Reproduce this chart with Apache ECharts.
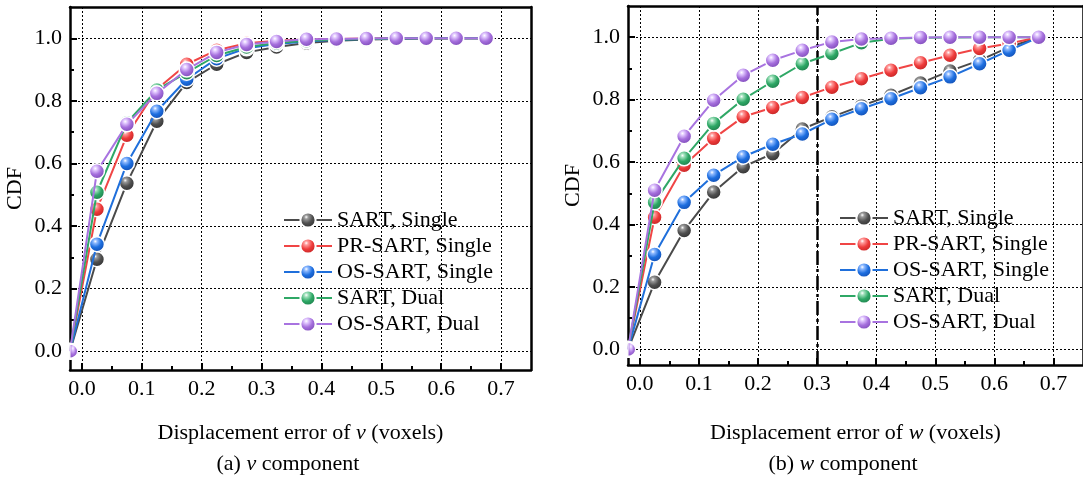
<!DOCTYPE html>
<html>
<head>
<meta charset="utf-8">
<script src="https://cdn.jsdelivr.net/npm/echarts@6/dist/echarts.min.js"></script>
<style>
  html, body { margin: 0; padding: 0; background: #fff; }
  #main { width: 1083px; height: 484px; }
</style>
</head>
<body>
<div id="main"></div>
<script>
// x positions of the points (first point sits on the left frame)
var xPos = [-0.02, 0.025, 0.075, 0.125, 0.175, 0.225, 0.275, 0.325, 0.375, 0.425, 0.475, 0.525, 0.575, 0.625, 0.675];

var seriesNames = ['SART, Single', 'PR-SART, Single', 'OS-SART, Single', 'SART, Dual', 'OS-SART, Dual'];

// (a) v component
var vSartSingle   = [0, 0.294, 0.537, 0.735, 0.859, 0.917, 0.955, 0.972, 0.985, 0.992, 0.996, 0.998, 0.999, 1.0, 1.0];
var vPrSartSingle = [0, 0.454, 0.690, 0.837, 0.917, 0.962, 0.984, 0.992, 0.996, 0.998, 0.999, 1.0, 1.0, 1.0, 1.0];
var vOsSartSingle = [0, 0.342, 0.600, 0.767, 0.869, 0.935, 0.968, 0.982, 0.990, 0.995, 0.998, 0.999, 1.0, 1.0, 1.0];
var vSartDual     = [0, 0.508, 0.730, 0.835, 0.890, 0.945, 0.972, 0.985, 0.992, 0.996, 0.998, 0.999, 1.0, 1.0, 1.0];
var vOsSartDual   = [0, 0.575, 0.725, 0.824, 0.900, 0.955, 0.980, 0.990, 0.997, 0.998, 0.999, 1.0, 1.0, 1.0, 1.0];

// (b) w component
var wSartSingle   = [0, 0.215, 0.381, 0.504, 0.585, 0.627, 0.706, 0.745, 0.780, 0.814, 0.853, 0.892, 0.926, 0.968, 1.0];
var wPrSartSingle = [0, 0.423, 0.590, 0.676, 0.745, 0.775, 0.807, 0.840, 0.867, 0.894, 0.918, 0.942, 0.964, 0.980, 1.0];
var wOsSartSingle = [0, 0.304, 0.471, 0.558, 0.617, 0.657, 0.690, 0.737, 0.771, 0.803, 0.838, 0.873, 0.915, 0.958, 1.0];
var wSartDual     = [0, 0.471, 0.612, 0.724, 0.801, 0.859, 0.915, 0.948, 0.982, 0.995, 0.998, 0.999, 1.0, 1.0, 1.0];
var wOsSartDual   = [0, 0.510, 0.683, 0.798, 0.878, 0.926, 0.958, 0.985, 0.994, 0.997, 0.999, 1.0, 1.0, 1.0, 1.0];

var xMajor = [0, 0.1, 0.2, 0.3, 0.4, 0.5, 0.6, 0.7];
var xMinor = [0.05, 0.15, 0.25, 0.35, 0.45, 0.55, 0.65];
var yMajor = [0, 0.2, 0.4, 0.6, 0.8, 1.0];
var yMinor = [0.1, 0.3, 0.5, 0.7, 0.9];
var markX = 0.3;

var FONT = 'Liberation Serif';
var FS = 22;
var lineColors = ['#4a4a4a', '#f04545', '#1f6fdb', '#2fa866', '#a873e0'];
var ballColors = [
  ['#9a9a9a', '#505050', '#2a2a2a'],
  ['#ff9a9a', '#ee3b3b', '#b81e1e'],
  ['#8fbaff', '#1e6fe0', '#0f47a8'],
  ['#9fe0bb', '#2ea866', '#1b7545'],
  ['#e2c9ff', '#a670dd', '#7441b0']
];

function ball(c) {
  return {
    type: 'radial', x: 0.4, y: 0.33, r: 0.72,
    colorStops: [
      { offset: 0, color: '#ffffff' },
      { offset: 0.16, color: c[0] },
      { offset: 0.5, color: c[1] },
      { offset: 1, color: c[2] }
    ]
  };
}

function makeSeries(values, i, gi) {
  var data = xPos.map(function (x, k) {
    if (k === 0) {
      // half marker clipped by the frame
      return { value: [x, values[k]], symbol: 'path://M0 0A10 10 0 0 1 0 20Z', symbolSize: [7.5, 15], symbolOffset: [3.75, 0] };
    }
    return [x, values[k]];
  });
  return {
    name: seriesNames[i],
    type: 'line',
    xAxisIndex: gi * 3,
    yAxisIndex: gi * 3,
    data: data,
    symbol: 'circle',
    symbolSize: 15,
    showAllSymbol: true,
    lineStyle: { color: lineColors[i], width: 2 },
    itemStyle: { color: ball(ballColors[i]), borderColor: '#fff', borderWidth: 1.5 },
    emphasis: { disabled: true },
    z: 3 + i
  };
}

function xAxes(gi) {
  return [
    {
      gridIndex: gi, type: 'value', min: -0.02, max: 0.75, position: 'bottom',
      axisLine: { show: true, onZero: false, lineStyle: { color: '#000', width: 2.5 } },
      axisTick: { show: true, inside: true, length: 7, customValues: xMajor, lineStyle: { color: '#000', width: 2 } },
      axisLabel: { show: true, customValues: xMajor, margin: 8, color: '#000', fontSize: FS, fontFamily: FONT,
        formatter: function (v) { return v.toFixed(1); } },
      splitLine: { show: true, lineStyle: { color: '#000', width: 1, type: [2, 2] } },
      name: gi === 0 ? '{t|Displacement error of }{i|v}{t| (voxels)}' : '{t|Displacement error of }{i|w}{t| (voxels)}',
      nameLocation: 'middle', nameGap: gi === 0 ? 52 : 57,
      nameTextStyle: { rich: {
        t: { fontSize: FS, fontFamily: FONT, color: '#000' },
        i: { fontSize: FS, fontFamily: FONT, color: '#000', fontStyle: 'italic' }
      } }
    },
    {
      gridIndex: gi, type: 'value', min: -0.02, max: 0.75, position: 'bottom',
      axisLine: { show: false, onZero: false },
      axisTick: { show: true, inside: true, length: 4, customValues: xMinor, lineStyle: { color: '#000', width: 2 } },
      axisLabel: { show: false },
      splitLine: { show: false }
    },
    {
      gridIndex: gi, type: 'value', min: -0.02, max: 0.75, position: 'top',
      axisLine: { show: true, onZero: false, lineStyle: { color: '#000', width: 2.5 } },
      axisTick: { show: false }, axisLabel: { show: false }, splitLine: { show: false }
    }
  ];
}

function yAxes(gi, ymin) {
  return [
    {
      gridIndex: gi, type: 'value', min: ymin, max: 1.1, position: 'left',
      axisLine: { show: true, onZero: false, lineStyle: { color: '#000', width: 2.5 } },
      axisTick: { show: true, inside: true, length: 7, customValues: yMajor, lineStyle: { color: '#000', width: 2 } },
      axisLabel: { show: true, customValues: yMajor, margin: 8, color: '#000', fontSize: FS, fontFamily: FONT,
        formatter: function (v) { return v.toFixed(1); } },
      splitLine: { show: true, lineStyle: { color: '#000', width: 1, type: [2, 2] } },
      name: 'CDF', nameLocation: 'middle', nameGap: 44,
      nameTextStyle: { fontSize: FS, fontFamily: FONT, color: '#000' }
    },
    {
      gridIndex: gi, type: 'value', min: ymin, max: 1.1, position: 'left',
      axisLine: { show: false, onZero: false },
      axisTick: { show: true, inside: true, length: 4, customValues: yMinor, lineStyle: { color: '#000', width: 2 } },
      axisLabel: { show: false }, splitLine: { show: false }
    },
    {
      gridIndex: gi, type: 'value', min: ymin, max: 1.1, position: 'right',
      axisLine: { show: true, onZero: false, lineStyle: { color: '#000', width: 2.5 } },
      axisTick: { show: false }, axisLabel: { show: false }, splitLine: { show: false }
    }
  ];
}

var legendBase = {
  data: seriesNames,
  orient: 'vertical',
  itemWidth: 48,
  itemHeight: 19,
  itemGap: 4,
  selectedMode: false,
  textStyle: { fontSize: FS, fontFamily: FONT, color: '#000', lineHeight: 21 }
};

var vSets = [vSartSingle, vPrSartSingle, vOsSartSingle, vSartDual, vOsSartDual];
var wSets = [wSartSingle, wPrSartSingle, wOsSartSingle, wSartDual, wOsSartDual];

var series = [];
vSets.forEach(function (d, i) { series.push(makeSeries(d, i, 0)); });
wSets.forEach(function (d, i) { series.push(makeSeries(d, i, 1)); });

// dash-dot reference line at x = 0.3 in panel (b)
series[5].markLine = {
  silent: true, symbol: 'none', label: { show: false },
  lineStyle: { color: '#000', width: 2.5, type: [14, 4, 3, 4] },
  data: [{ xAxis: markX }]
};

var myChart = echarts.init(document.getElementById('main'));

var captionRich = {
  t: { fontSize: FS, fontFamily: FONT, fill: '#000' },
  i: { fontSize: FS, fontFamily: FONT, fill: '#000', fontStyle: 'italic' }
};

var option = {
  backgroundColor: '#fff',
  animation: false,
  grid: [
    { left: 70, top: 7, width: 461, height: 363 },
    { left: 628, top: 6, width: 461, height: 359 }
  ],
  xAxis: xAxes(0).concat(xAxes(1)),
  yAxis: yAxes(0, -0.06).concat(yAxes(1, -0.05)),
  legend: [
    Object.assign({}, legendBase, { left: 278, top: 204 }),
    Object.assign({}, legendBase, { left: 834, top: 202 })
  ],
  graphic: [
    { type: 'text', x: 288, y: 464, style: { text: '{t|(a) }{i|v}{t| component}', align: 'center', verticalAlign: 'middle', rich: captionRich } },
    { type: 'text', x: 843, y: 464, style: { text: '{t|(b) }{i|w}{t| component}', align: 'center', verticalAlign: 'middle', rich: captionRich } }
  ],
  series: series
};

myChart.setOption(option);
</script>
</body>
</html>
